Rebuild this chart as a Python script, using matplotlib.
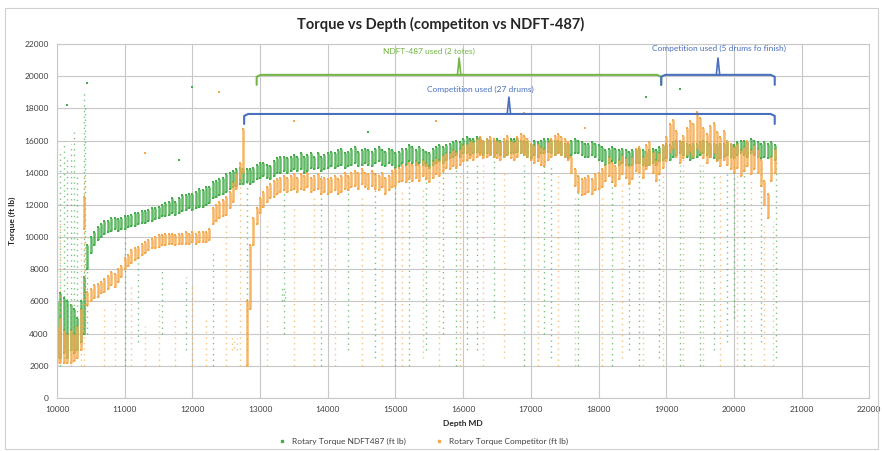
import numpy as np
import matplotlib
matplotlib.use("Agg")
import matplotlib.pyplot as plt
from matplotlib.lines import Line2D
from matplotlib.patches import Rectangle

plt.rcParams['font.family'] = ['Lato', 'DejaVu Sans']

# depth grid of the band readings (ft), one reading every 50 ft
depth = np.arange(10000, 20650, 50)

# NDFT-487 band, low / high edge, in 100 ft lb
ndft_lo = [25, 25, 28, 25, 30, 28, 30, 35, 40, 80, 90, 95, 98, 100, 102, 103, 104, 105, 104, 105,
           105, 106, 107, 107, 108, 109, 109, 110, 110, 111, 112, 113, 113, 114, 115, 114, 115, 116, 117, 118,
           117, 118, 119, 119, 120, 121, 124, 125, 126, 127, 128, 130, 131, 132, 133, 133, 134, 133, 134, 136,
           137, 138, 137, 136, 138, 140, 140, 141, 140, 141, 142, 141, 142, 140, 141, 143, 142, 143, 141, 142,
           143, 144, 143, 144, 145, 143, 144, 145, 146, 144, 145, 146, 145, 144, 146, 147, 145, 144, 146, 145,
           143, 144, 146, 145, 147, 146, 145, 146, 145, 144, 143, 145, 146, 147, 146, 148, 149, 150, 151, 150,
           152, 152, 151, 152, 153, 152, 151, 152, 151, 150, 152, 151, 150, 151, 152, 152, 153, 152, 151, 150,
           149, 151, 150, 152, 152, 153, 152, 151, 152, 151, 150, 149, 151, 152, 152, 151, 150, 150, 151, 150,
           148, 147, 145, 146, 147, 146, 145, 146, 145, 144, 145, 146, 146, 145, 144, 145, 146, 145, 147, 148,
           149, 148, 150, 151, 152, 151, 150, 148, 149, 150, 151, 152, 151, 150, 149, 148, 149, 150, 151, 150,
           149, 151, 152, 151, 150, 152, 151, 150, 149, 150, 149, 150, 148]
ndft_hi = [60, 65, 62, 60, 58, 55, 50, 60, 75, 95, 100, 103, 106, 108, 110, 110, 112, 112, 111, 112,
           113, 113, 114, 115, 115, 116, 116, 117, 118, 118, 119, 120, 121, 122, 124, 122, 124, 126, 126, 127,
           127, 128, 130, 129, 131, 131, 134, 135, 136, 137, 139, 140, 141, 142, 143, 142, 142, 142, 143, 145,
           146, 146, 145, 144, 147, 149, 150, 150, 149, 150, 151, 150, 152, 150, 151, 152, 150, 152, 150, 151,
           152, 153, 152, 154, 155, 152, 153, 155, 156, 153, 154, 155, 154, 153, 155, 156, 154, 153, 155, 154,
           152, 153, 155, 155, 157, 156, 154, 156, 154, 153, 152, 155, 156, 157, 156, 157, 158, 159, 160, 159,
           161, 162, 161, 161, 162, 161, 160, 161, 160, 160, 161, 160, 159, 160, 161, 161, 161, 160, 160, 159,
           158, 160, 159, 160, 161, 161, 160, 160, 160, 159, 158, 158, 160, 161, 160, 159, 158, 158, 159, 158,
           157, 156, 154, 155, 156, 155, 154, 155, 154, 153, 154, 155, 155, 154, 153, 154, 155, 154, 156, 157,
           158, 157, 159, 160, 160, 159, 158, 157, 158, 158, 159, 160, 159, 158, 158, 157, 158, 158, 159, 158,
           157, 159, 160, 160, 159, 161, 160, 159, 158, 159, 158, 159, 157]

# Competitor band, low / high edge, in 100 ft lb
comp_lo = [22, 22, 22, 22, 22, 23, 25, 30, 105, 58, 60, 62, 63, 65, 66, 68, 70, 69, 72, 75,
           80, 82, 84, 86, 87, 89, 90, 92, 93, 93, 94, 95, 95, 96, 96, 95, 96, 96, 96, 96,
           97, 96, 97, 97, 97, 98, 108, 110, 112, 113, 114, 118, 122, 130, 136, 140, 20, 55, 95, 108,
           115, 119, 122, 124, 125, 127, 128, 129, 128, 129, 130, 128, 130, 129, 131, 128, 129, 130, 127, 128,
           127, 128, 129, 127, 128, 130, 129, 131, 132, 130, 133, 131, 130, 132, 130, 129, 131, 127, 129, 131,
           132, 134, 135, 134, 136, 135, 137, 135, 138, 136, 134, 137, 139, 138, 141, 143, 142, 144, 143, 145,
           147, 148, 149, 148, 150, 151, 149, 150, 151, 150, 149, 148, 150, 151, 149, 148, 150, 152, 151, 150,
           148, 146, 147, 145, 144, 148, 150, 151, 152, 151, 150, 148, 140, 132, 128, 126, 127, 128, 127, 129,
           130, 131, 135, 138, 134, 132, 136, 139, 137, 133, 136, 141, 140, 137, 142, 145, 140, 135, 139, 143,
           147, 152, 155, 150, 146, 149, 151, 153, 150, 155, 153, 149, 146, 150, 152, 147, 144, 148, 145, 142,
           140, 143, 138, 141, 144, 139, 142, 140, 132, 120, 112, 135, 140]
comp_hi = [45, 50, 42, 40, 42, 40, 45, 55, 125, 66, 68, 70, 71, 72, 74, 76, 78, 77, 80, 82,
           87, 89, 92, 93, 94, 96, 97, 98, 99, 100, 101, 101, 102, 102, 102, 101, 102, 102, 103, 102,
           103, 102, 103, 103, 103, 105, 118, 120, 122, 123, 125, 128, 134, 140, 146, 167, 60, 95, 112, 118,
           124, 128, 131, 133, 135, 136, 137, 138, 137, 138, 139, 137, 139, 138, 140, 137, 138, 139, 136, 137,
           136, 137, 138, 136, 138, 140, 138, 140, 141, 140, 142, 140, 139, 141, 139, 138, 140, 137, 138, 141,
           142, 143, 145, 144, 146, 145, 147, 145, 148, 146, 144, 147, 149, 148, 151, 152, 152, 154, 153, 155,
           157, 158, 160, 159, 161, 162, 160, 161, 162, 161, 160, 159, 161, 163, 160, 159, 162, 164, 163, 161,
           158, 157, 158, 156, 155, 159, 161, 163, 164, 162, 161, 159, 150, 142, 138, 136, 137, 138, 136, 139,
           140, 142, 145, 150, 146, 144, 148, 151, 149, 145, 150, 155, 156, 150, 157, 159, 153, 148, 152, 157,
           162, 170, 173, 166, 160, 163, 168, 172, 170, 178, 174, 168, 164, 169, 171, 165, 162, 166, 160, 158,
           156, 158, 154, 156, 160, 154, 157, 155, 148, 135, 127, 150, 155]

# vertical runs of low readings (depth ft, bottom, top in 100 ft lb)
ndft_runs = [(10050, 20, 155), (10100, 25, 160), (10150, 30, 150), (10200, 30, 158), (10250, 30, 165),
             (10300, 40, 140), (10400, 40, 190), (10420, 45, 180), (10450, 40, 85), (11000, 20, 100),
             (11200, 35, 90), (11550, 40, 80), (11900, 30, 75), (12300, 20, 90), (12800, 30, 135),
             (13330, 60, 70), (13370, 62, 68), (13350, 40, 135), (13900, 20, 140), (14300, 30, 140),
             (14700, 25, 140), (15000, 20, 145), (15200, 20, 145), (15450, 30, 140), (15700, 40, 145),
             (15900, 20, 150), (16050, 30, 150), (16200, 30, 145), (16450, 50, 150), (16900, 20, 145),
             (17200, 40, 150), (17300, 25, 145), (17700, 20, 140), (18200, 20, 140), (18450, 30, 140),
             (18600, 20, 140), (18900, 25, 140), (19200, 20, 145), (19500, 20, 145), (19700, 30, 140),
             (19900, 35, 140), (20000, 50, 145), (20150, 20, 145), (20400, 35, 145), (20620, 25, 150)]
comp_runs = [(10000, 20, 80), (10050, 25, 110), (10200, 20, 60), (10350, 20, 100), (10400, 20, 140),
             (10700, 20, 55), (10850, 20, 60), (11100, 20, 70), (11300, 20, 45), (11500, 20, 60),
             (11750, 20, 50), (12000, 20, 70), (12200, 20, 50), (12500, 20, 110), (12580, 30, 38),
             (12620, 31, 38), (12660, 30, 37), (12700, 20, 140), (13100, 20, 110), (13500, 20, 120),
             (13800, 20, 125), (14100, 20, 120), (14500, 20, 125), (14800, 20, 120), (15100, 20, 130),
             (15400, 25, 130), (15650, 20, 135), (15950, 20, 140), (16300, 20, 145), (16600, 25, 140),
             (17100, 20, 140), (17400, 20, 140), (17650, 20, 125), (18050, 20, 125), (18350, 25, 135),
             (18650, 20, 130), (18950, 20, 140), (19250, 20, 150), (19550, 20, 145), (19800, 20, 140),
             (20050, 20, 140), (20250, 20, 135), (20450, 20, 110), (20580, 20, 110)]

# isolated readings (depth ft, 100 ft lb)
ndft_dots = [(10150, 182), (10450, 196), (11800, 148), (12000, 193), (14600, 165), (18700, 187), (19200, 192)]
comp_dots = [(12400, 190), (11300, 152), (13500, 172), (16900, 177), (17800, 168), (15600, 172)]

green = '#45ad4b'
orange = '#f5a84c'
blue = '#4a6fbf'
bgreen = '#74b547'

fig = plt.figure(figsize=(8.82, 4.51), dpi=100)
ax = fig.add_axes([0.0646, 0.1175, 0.921, 0.785])
fig.patches.append(Rectangle((0.006, 0.004), 0.99, 0.978, transform=fig.transFigure,
                             fill=False, edgecolor='#d0d0d0', linewidth=0.8))

for runs, dots, lo, hi, col in [(ndft_runs, ndft_dots, ndft_lo, ndft_hi, green),
                                (comp_runs, comp_dots, comp_lo, comp_hi, orange)]:
    lo = np.array(lo) * 100
    hi = np.array(hi) * 100
    ax.vlines([r[0] for r in runs], [r[1] * 100 for r in runs], [r[2] * 100 for r in runs],
              colors=col, linewidth=1.0, linestyles=(0, (1, 3)), alpha=0.7)
    ax.vlines(depth, lo, hi, colors=col, linewidth=1.8, alpha=0.85)
    ax.scatter(depth, lo, s=3, c=col, marker='s', linewidths=0)
    ax.scatter(depth, hi, s=3, c=col, marker='s', linewidths=0)
    ax.scatter([d[0] for d in dots], [d[1] * 100 for d in dots], s=3, c=col, marker='s', linewidths=0)

# brackets
def bracket(x0, x1, xm, y, drop, rise, col):
    k = 60
    ax.plot([x0, x0, x0 + k, x1 - k, x1, x1], [y - drop, y - 120, y, y, y - 120, y - drop],
            color=col, linewidth=1.5, solid_capstyle='round', clip_on=False)
    ax.plot([xm - 25, xm, xm + 25], [y, y + rise, y], color=col, linewidth=1.2, clip_on=False)

bracket(12950, 18926, 15941, 20080, 620, 1050, bgreen)
bracket(18926, 20603, 19765, 20080, 620, 1050, blue)
bracket(12765, 20603, 16676, 17650, 620, 1050, blue)

ax.text(15500, 21560, "NDFT-487 used (2 totes)", color=bgreen, fontsize=6, ha='center', va='center')
ax.text(16250, 19200, "Competition used (27 drums)", color=blue, fontsize=6, ha='center', va='center')
ax.text(19780, 21750, "Competition used (5 drums fo finish)", color=blue, fontsize=6, ha='center', va='center')

ax.set_xlim(10000, 22000)
ax.set_ylim(0, 22000)
ax.set_xticks(np.arange(10000, 22001, 1000))
ax.set_yticks(np.arange(0, 22001, 2000))
ax.grid(True, color='#c8c8c8', linewidth=0.8)
ax.set_axisbelow(True)
for s in ax.spines.values():
    s.set_color('#c8c8c8')
    s.set_linewidth(0.8)
ax.tick_params(length=0, labelsize=6, colors='#404040', pad=6)

fig.text(0.5, 0.945, "Torque vs Depth (competiton vs NDFT-487)", ha='center', va='center',
         fontsize=10.5, fontweight='bold', color='#262626')
ax.set_xlabel("Depth MD", fontsize=6, fontweight='bold', labelpad=5, color='#262626')
ax.set_ylabel("Torque (ft lb)", fontsize=6, fontweight='bold', labelpad=6, color='#262626')

handles = [Line2D([], [], linestyle='none', marker='s', markersize=1.8, color=green, label='Rotary Torque NDFT487 (ft lb)'),
           Line2D([], [], linestyle='none', marker='s', markersize=1.8, color=orange, label='Rotary Torque Competitor (ft lb)')]
fig.legend(handles=handles, loc='center', bbox_to_anchor=(0.477, 0.022), ncol=2, frameon=False,
           fontsize=6, handletextpad=0.2, columnspacing=3, labelcolor='#404040')

fig.savefig("out.png", dpi=100)
